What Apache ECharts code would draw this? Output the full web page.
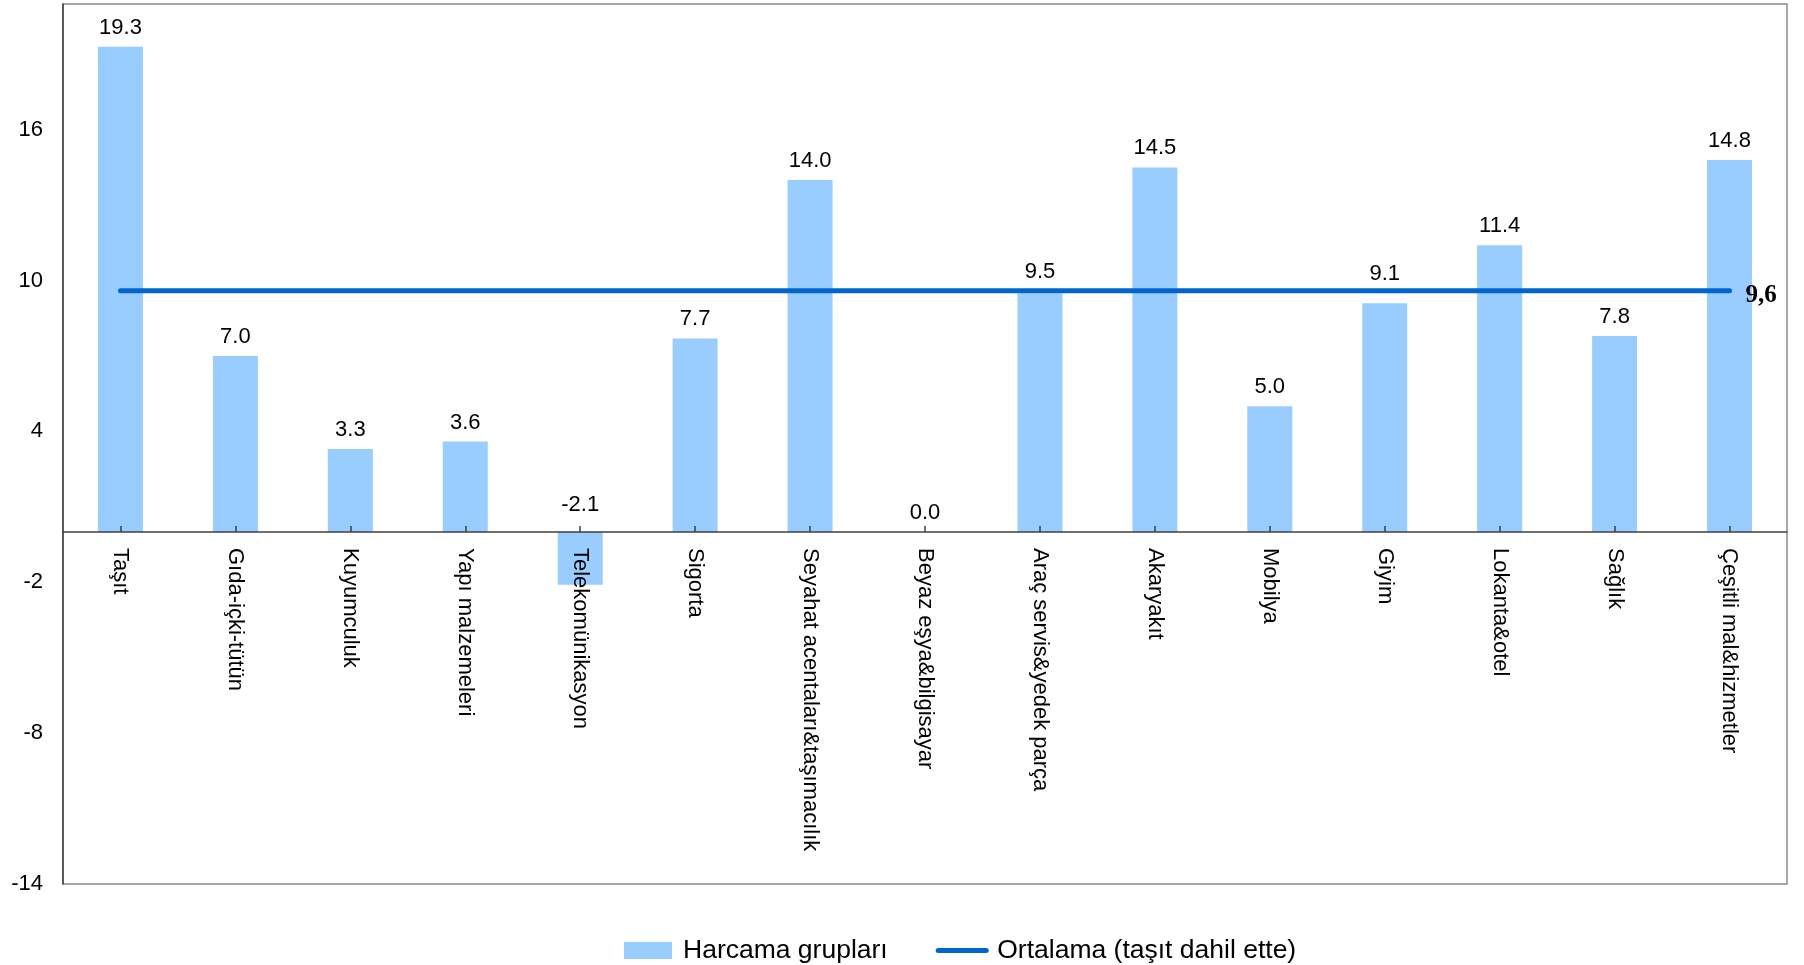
<!DOCTYPE html>
<html>
<head>
<meta charset="utf-8">
<script src="https://cdn.jsdelivr.net/npm/echarts@6/dist/echarts.min.js"></script>
<style>
html,body{margin:0;padding:0;background:#fff;}
#chart{width:1804px;height:965px;}
</style>
</head>
<body>
<div id="chart"></div>
<script>
const categories = ["Taşıt","Gıda-içki-tütün","Kuyumculuk","Yapı malzemeleri","Telekomünikasyon","Sigorta","Seyahat acentaları&taşımacılık","Beyaz eşya&bilgisayar","Araç servis&yedek parça","Akaryakıt","Mobilya","Giyim","Lokanta&otel","Sağlık","Çeşitli mal&hizmetler"];
const groupValues = [19.3, 7.0, 3.3, 3.6, -2.1, 7.7, 14.0, 0.0, 9.5, 14.5, 5.0, 9.1, 11.4, 7.8, 14.8];
const averageValues = [9.6, 9.6, 9.6, 9.6, 9.6, 9.6, 9.6, 9.6, 9.6, 9.6, 9.6, 9.6, 9.6, 9.6, 9.6];
const averageLabel = "9,6";
const yTicks = [-14, -8, -2, 4, 10, 16];
const yMax = 21;
const seriesNames = ["Harcama grupları", "Ortalama (taşıt dahil ette)"];

const FONT = "'Liberation Sans', Arial, sans-serif";
const W = 1804, H = 965;
const gridTop = 4, gridBottom = 81;
const gridH = H - gridTop - gridBottom;
const yMin = yTicks[0];
// move the category axis up to the zero line
const xAxisOffset = -((0 - yMin) / (yMax - yMin)) * gridH;

// per-item label nudges (style only), values come from groupValues
const labelDistance = {4: 16, 11: 18, 8: 10};
const barData = groupValues.map((v, i) => labelDistance[i] !== undefined
  ? {value: v, label: {distance: labelDistance[i]}}
  : v);

const chart = echarts.init(document.getElementById('chart'), null, {renderer: 'canvas'});
chart.setOption({
  animation: false,
  backgroundColor: '#ffffff',
  grid: {left: 63, right: 17, top: gridTop, bottom: gridBottom, show: true, containLabel: false, outerBoundsMode: 'none', borderColor: '#8c8c8c', borderWidth: 1.5, backgroundColor: 'transparent'},
  legend: {
    left: 624, top: 937, padding: 0,
    itemWidth: 48, itemHeight: 17, itemGap: 48,
    textStyle: {fontFamily: FONT, fontSize: 26.5, color: '#000', padding: [0, 0, 0, 6]},
    data: [
      {name: seriesNames[0], icon: 'rect'},
      {name: seriesNames[1], itemStyle: {opacity: 0}, lineStyle: {color: '#0066CC', width: 5}}
    ]
  },
  xAxis: {
    type: 'category',
    data: categories,
    position: 'bottom',
    offset: xAxisOffset,
    z: 10,
    axisLine: {onZero: false, lineStyle: {color: '#404040', width: 1.5}},
    axisTick: {show: true, alignWithLabel: true, inside: true, length: 6, lineStyle: {color: '#404040', width: 1.5}},
    axisLabel: {rotate: -90, margin: 16, fontFamily: FONT, fontSize: 22, color: '#000', interval: 0},
    splitLine: {show: false}
  },
  yAxis: {
    type: 'value',
    min: yMin, max: yMax, interval: 6,
    axisLine: {show: true, lineStyle: {color: '#404040', width: 1.5}},
    axisTick: {show: false},
    splitLine: {show: false},
    axisLabel: {
      margin: 20, fontFamily: FONT, fontSize: 22, color: '#000',
      formatter: v => yTicks.includes(v) ? String(v) : ''
    }
  },
  series: [
    {
      name: seriesNames[0],
      type: 'bar',
      data: barData,
      barWidth: 45,
      itemStyle: {color: '#99CCFF'},
      label: {show: true, position: 'top', distance: 8, fontFamily: FONT, fontSize: 22, color: '#000', formatter: p => p.value.toFixed(1)}
    },
    {
      name: seriesNames[1],
      type: 'line',
      data: averageValues,
      symbol: 'none',
      lineStyle: {color: '#0066CC', width: 5, cap: 'round'},
      itemStyle: {color: '#0066CC'},
      z: 5,
      endLabel: {show: true, formatter: averageLabel, distance: 16, fontFamily: "'Liberation Serif', 'Times New Roman', serif", fontWeight: 'bold', fontSize: 25, color: '#000', offset: [0, 5]}
    }
  ]
});
</script>
</body>
</html>
